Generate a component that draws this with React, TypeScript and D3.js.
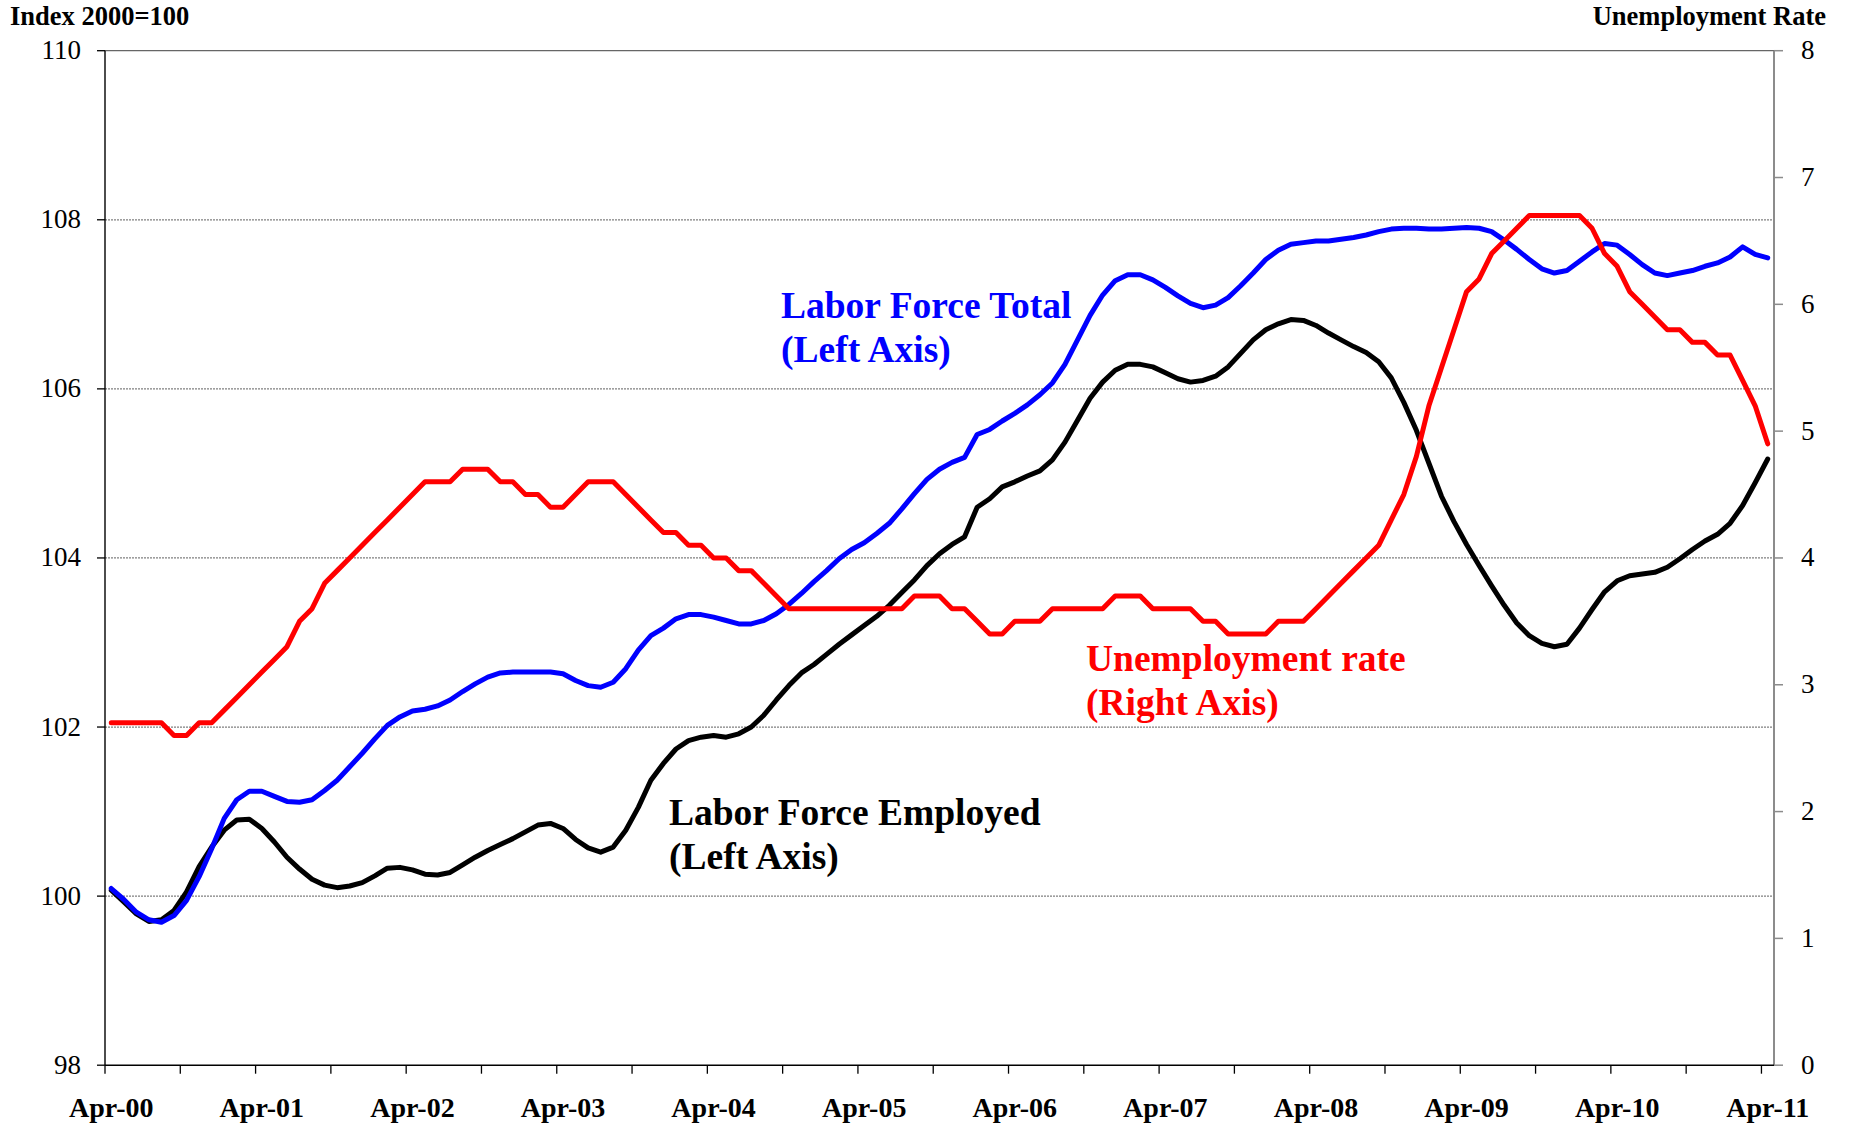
import React from "react";
import * as d3 from "d3";

const MONTHS = ["Jan", "Feb", "Mar", "Apr", "May", "Jun", "Jul", "Aug", "Sep", "Oct", "Nov", "Dec"];
// Monthly categories Apr-00 .. Apr-11 (133 months)
const categories: string[] = Array.from({ length: 133 }, (_, i) => {
  const m = (3 + i) % 12;
  const y = Math.floor((3 + i) / 12);
  return `${MONTHS[m]}-${String(y).padStart(2, "0")}`;
});

const xTickLabels = ["Apr-00", "Apr-01", "Apr-02", "Apr-03", "Apr-04", "Apr-05", "Apr-06", "Apr-07", "Apr-08", "Apr-09", "Apr-10", "Apr-11"];
const leftTicks = [98, 100, 102, 104, 106, 108, 110];
const rightTicks = [0, 1, 2, 3, 4, 5, 6, 7, 8];

const laborForceTotal = [
  100.09, 99.96, 99.81, 99.72, 99.69, 99.77, 99.95, 100.23, 100.56, 100.92,
  101.14, 101.24, 101.24, 101.18, 101.12, 101.11, 101.14, 101.25, 101.37, 101.53,
  101.69, 101.86, 102.02, 102.12, 102.19, 102.21, 102.25, 102.32, 102.42, 102.51,
  102.59, 102.64, 102.65, 102.65, 102.65, 102.65, 102.63, 102.55, 102.49, 102.47,
  102.53, 102.69, 102.91, 103.08, 103.17, 103.28, 103.33, 103.33, 103.30, 103.26,
  103.22, 103.22, 103.26, 103.34, 103.45, 103.58, 103.72, 103.85, 103.99, 104.10,
  104.18, 104.29, 104.41, 104.58, 104.76, 104.93, 105.05, 105.13, 105.19, 105.46,
  105.52, 105.62, 105.71, 105.81, 105.93, 106.07, 106.29, 106.58, 106.87, 107.11,
  107.28, 107.35, 107.35, 107.29, 107.20, 107.10, 107.01, 106.96, 106.99, 107.08,
  107.22, 107.37, 107.53, 107.64, 107.71, 107.73, 107.75, 107.75, 107.77, 107.79,
  107.82, 107.86, 107.89, 107.90, 107.90, 107.89, 107.89, 107.90, 107.91, 107.90,
  107.86, 107.76, 107.65, 107.53, 107.42, 107.37, 107.40, 107.51, 107.62, 107.72,
  107.70, 107.59, 107.47, 107.37, 107.34, 107.37, 107.40, 107.45, 107.49, 107.56,
  107.68, 107.59, 107.55,
];

const laborForceEmployed = [
  100.07, 99.93, 99.79, 99.70, 99.72, 99.83, 100.05, 100.35, 100.58, 100.78,
  100.90, 100.91, 100.80, 100.64, 100.46, 100.32, 100.20, 100.13, 100.10, 100.12,
  100.16, 100.24, 100.33, 100.34, 100.31, 100.26, 100.25, 100.28, 100.37, 100.46,
  100.54, 100.61, 100.68, 100.76, 100.84, 100.86, 100.80, 100.67, 100.57, 100.52,
  100.58, 100.78, 101.05, 101.37, 101.57, 101.74, 101.84, 101.88, 101.90, 101.88,
  101.92, 102.00, 102.14, 102.32, 102.49, 102.64, 102.74, 102.86, 102.98, 103.09,
  103.20, 103.31, 103.44, 103.59, 103.74, 103.91, 104.05, 104.16, 104.25, 104.60,
  104.70, 104.84, 104.90, 104.97, 105.03, 105.16, 105.37, 105.63, 105.89, 106.08,
  106.22, 106.29, 106.29, 106.26, 106.19, 106.12, 106.08, 106.10, 106.15, 106.26,
  106.42, 106.58, 106.70, 106.77, 106.82, 106.81, 106.75, 106.66, 106.58, 106.50,
  106.43, 106.32, 106.13, 105.84, 105.51, 105.12, 104.73, 104.43, 104.16, 103.91,
  103.67, 103.44, 103.23, 103.08, 102.99, 102.95, 102.98, 103.17, 103.39, 103.60,
  103.73, 103.79, 103.81, 103.83, 103.89, 103.99, 104.10, 104.20, 104.28, 104.41,
  104.62, 104.89, 105.17,
];

const unemploymentRate = [
  2.7, 2.7, 2.7, 2.7, 2.7, 2.6, 2.6, 2.7, 2.7, 2.8,
  2.9, 3.0, 3.1, 3.2, 3.3, 3.5, 3.6, 3.8, 3.9, 4.0,
  4.1, 4.2, 4.3, 4.4, 4.5, 4.6, 4.6, 4.6, 4.7, 4.7,
  4.7, 4.6, 4.6, 4.5, 4.5, 4.4, 4.4, 4.5, 4.6, 4.6,
  4.6, 4.5, 4.4, 4.3, 4.2, 4.2, 4.1, 4.1, 4.0, 4.0,
  3.9, 3.9, 3.8, 3.7, 3.6, 3.6, 3.6, 3.6, 3.6, 3.6,
  3.6, 3.6, 3.6, 3.6, 3.7, 3.7, 3.7, 3.6, 3.6, 3.5,
  3.4, 3.4, 3.5, 3.5, 3.5, 3.6, 3.6, 3.6, 3.6, 3.6,
  3.7, 3.7, 3.7, 3.6, 3.6, 3.6, 3.6, 3.5, 3.5, 3.4,
  3.4, 3.4, 3.4, 3.5, 3.5, 3.5, 3.6, 3.7, 3.8, 3.9,
  4.0, 4.1, 4.3, 4.5, 4.8, 5.2, 5.5, 5.8, 6.1, 6.2,
  6.4, 6.5, 6.6, 6.7, 6.7, 6.7, 6.7, 6.7, 6.6, 6.4,
  6.3, 6.1, 6.0, 5.9, 5.8, 5.8, 5.7, 5.7, 5.6, 5.6,
  5.4, 5.2, 4.9,
];

const FONT = "'Liberation Serif', 'Times New Roman', Times, serif";

export default function App() {
  const W = 1850;
  const H = 1125;
  const left = 105;
  const right = 1774;
  const top = 50.7;
  const bottom = 1065.2;

  const x = d3.scaleBand<string>().domain(categories).range([left, right]).paddingInner(0).paddingOuter(0);
  const bw = x.bandwidth();
  const cx = (c: string) => (x(c) as number) + bw / 2;
  const yL = d3.scaleLinear().domain([98, 110]).range([bottom, top]);
  const yR = d3.scaleLinear().domain([0, 8]).range([bottom, top]);

  const lineL = d3
    .line<number>()
    .x((_, i) => cx(categories[i]))
    .y((d) => yL(d));
  const lineR = d3
    .line<number>()
    .x((_, i) => cx(categories[i]))
    .y((d) => yR(d));

  const tickBoundaries = d3.range(0, categories.length, 6).map((i) => x(categories[i]) as number);

  const annoSize = 37.5;

  return (
    <svg
      width={W}
      height={H}
      viewBox={`0 0 ${W} ${H}`}
      style={{ position: "absolute", left: 0, top: 0, background: "#fff" }}
      fontFamily={FONT}
    >
      <rect x={0} y={0} width={W} height={H} fill="#fff" />
      {/* gridlines */}
      {leftTicks
        .filter((t) => t > 98)
        .map((t) => (
          <line
            key={"g" + t}
            x1={left}
            x2={right}
            y1={yL(t)}
            y2={yL(t)}
            stroke={t === 110 ? "#666" : "#808080"}
            strokeWidth={1.2}
            strokeDasharray={t === 110 ? undefined : "2 1"}
          />
        ))}

      {/* left axis */}
      <line x1={left} x2={left} y1={top} y2={bottom} stroke="#000" strokeWidth={1.4} />
      {leftTicks.map((t) => (
        <g key={"l" + t}>
          <line x1={left - 8} x2={left} y1={yL(t)} y2={yL(t)} stroke="#000" strokeWidth={1.3} />
          <text x={81} y={yL(t) + 8.5} textAnchor="end" fontSize={27} fill="#000">
            {t}
          </text>
        </g>
      ))}

      {/* right axis */}
      <line x1={right} x2={right} y1={top} y2={bottom} stroke="#8c8c8c" strokeWidth={2} />
      {rightTicks.map((t) => (
        <g key={"r" + t}>
          <line x1={right} x2={right + 9} y1={yR(t)} y2={yR(t)} stroke="#8c8c8c" strokeWidth={1.5} />
          <text x={1801} y={yR(t) + 8.5} textAnchor="start" fontSize={27} fill="#000">
            {t}
          </text>
        </g>
      ))}

      {/* x axis */}
      <line x1={left} x2={right} y1={bottom} y2={bottom} stroke="#000" strokeWidth={1.5} />
      {tickBoundaries.map((tx, i) => (
        <line key={"xt" + i} x1={tx} x2={tx} y1={bottom} y2={bottom + 8.5} stroke="#000" strokeWidth={1.3} />
      ))}
      {xTickLabels.map((lab) => (
        <text
          key={lab}
          x={cx(lab)}
          y={1117}
          textAnchor="middle"
          fontSize={28}
          fontWeight="bold"
          fill="#000"
        >
          {lab}
        </text>
      ))}

      {/* axis titles */}
      <text x={10} y={25} fontSize={26.5} fontWeight="bold" fill="#000">
        Index 2000=100
      </text>
      <text x={1826} y={25} fontSize={26.5} fontWeight="bold" fill="#000" textAnchor="end">
        Unemployment Rate
      </text>

      {/* series */}
      <path d={lineL(laborForceEmployed) || ""} fill="none" stroke="#000" strokeWidth={5} strokeLinejoin="round" strokeLinecap="round" />
      <path d={lineL(laborForceTotal) || ""} fill="none" stroke="#0000ff" strokeWidth={5} strokeLinejoin="round" strokeLinecap="round" />
      <path d={lineR(unemploymentRate) || ""} fill="none" stroke="#ff0000" strokeWidth={5} strokeLinejoin="round" strokeLinecap="round" />

      {/* annotations */}
      <g fontSize={annoSize} fontWeight="bold">
        <text x={781} y={317.5} fill="#0000ff">Labor Force Total</text>
        <text x={781} y={362} fill="#0000ff">(Left Axis)</text>
        <text x={1086} y={670.5} fill="#ff0000">Unemployment rate</text>
        <text x={1086} y={715} fill="#ff0000">(Right Axis)</text>
        <text x={669} y={824.5} fill="#000">Labor Force Employed</text>
        <text x={669} y={869} fill="#000">(Left Axis)</text>
      </g>
    </svg>
  );
}
